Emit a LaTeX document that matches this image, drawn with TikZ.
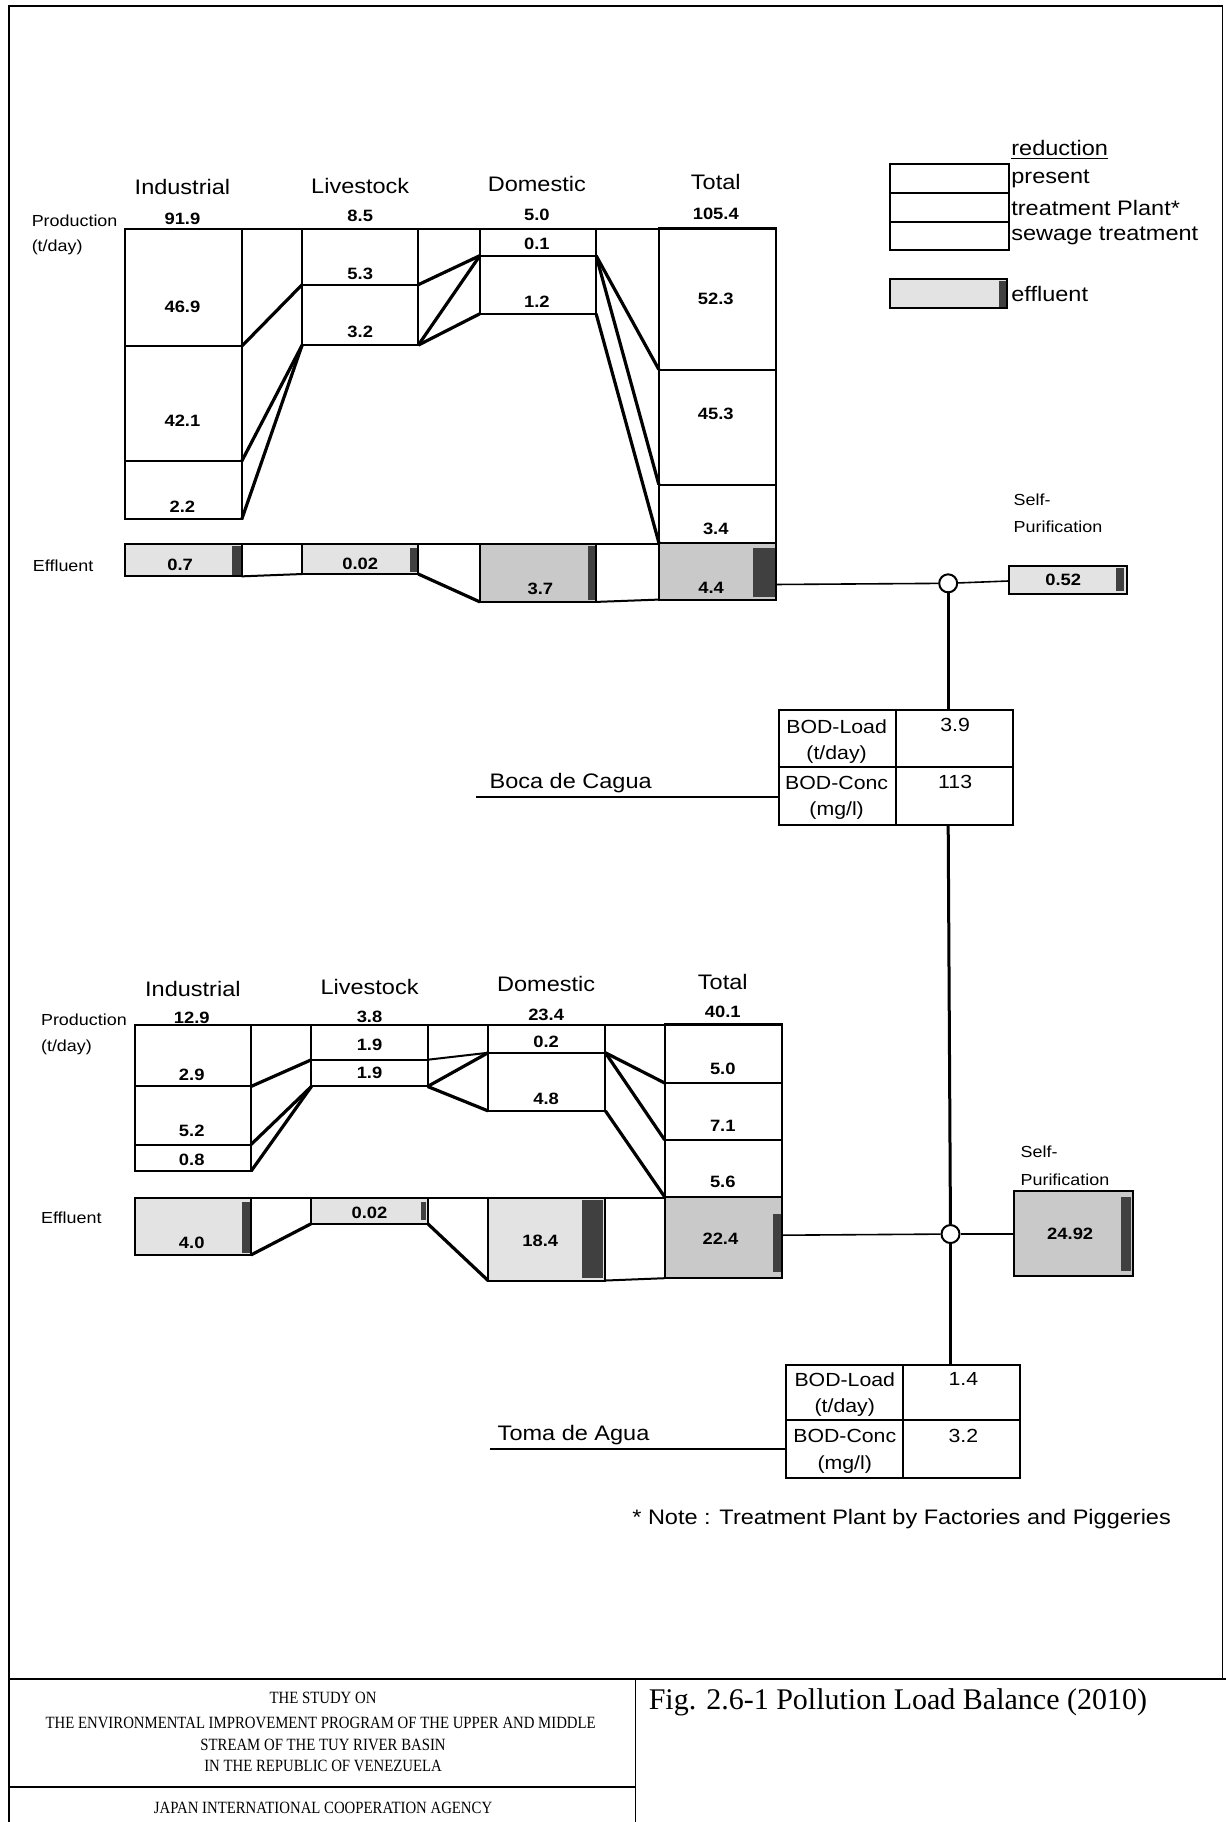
\documentclass[tikz,border=0pt]{standalone}
\usepackage{fontspec}
\setmainfont{Liberation Sans}
\newfontfamily\wf[FakeStretch=1.12]{Liberation Sans}
\newfontfamily\serff{Liberation Serif}
\newfontfamily\serfc[FakeStretch=0.86]{Liberation Serif}
\begin{document}
\begin{tikzpicture}[x=0.58105pt,y=-0.58105pt,
  bx/.style={line width=1pt},
  cn/.style={line width=1.6pt},
  rv/.style={line width=0.8pt},
  rvv/.style={line width=1.5pt},
  hd/.style={font=\wf\fontsize{10.5}{12}\selectfont, inner sep=0pt},
  nm/.style={font=\wf\bfseries\fontsize{8.2}{10}\selectfont, inner sep=0pt},
  sm/.style={font=\wf\fontsize{8}{10}\selectfont, inner sep=0pt, anchor=west},
  lg/.style={font=\wf\fontsize{10.5}{12}\selectfont, inner sep=0pt, anchor=west},
  tb/.style={font=\wf\fontsize{9.5}{11}\selectfont, inner sep=0pt},
  effl/.style={fill=gray!22},
  effd/.style={fill=gray!42},
  strip/.style={fill=black!75},
  ft/.style={font=\serfc\fontsize{8.6}{10}\selectfont, inner sep=0pt},
]
\useasboundingbox (0,0) rectangle (1055,1568);

% ---------- frame and footer ----------
\draw[line width=0.8pt] (8,1568) -- (8,5) -- (1052,5) -- (1052,1445);
\draw[line width=0.8pt] (8,1445) -- (1055,1445);
\draw[line width=0.8pt] (547,1445) -- (547,1568);
\draw[line width=0.8pt] (8,1538) -- (547,1538);
\node[ft] (f1) at (278,1461) {THE STUDY ON};
\node[ft] (f2) at (276,1483) {THE ENVIRONMENTAL IMPROVEMENT PROGRAM OF THE UPPER AND MIDDLE};
\node[ft] (f3) at (278,1502) {STREAM OF THE TUY RIVER BASIN};
\node[ft] (f4) at (278,1520) {IN THE REPUBLIC OF VENEZUELA};
\node[ft] (f5) at (278,1556) {JAPAN INTERNATIONAL COOPERATION AGENCY};
\node[font=\serff\fontsize{15}{17}\selectfont, inner sep=0pt, anchor=west] (fig) at (558,1465) {Fig. 2.6-1 Pollution Load Balance (2010)};

% ---------- legend ----------
\node[lg] (lgr) at (870,129) {\underline{reduction}};
\draw[bx] (766,141) rectangle (868,215);
\draw[bx] (766,166) -- (868,166);
\draw[bx] (766,191) -- (868,191);
\node[lg] (lg1) at (870,154) {present};
\node[lg] (lg2) at (870,179) {treatment Plant*};
\node[lg] (lg3) at (870,203) {sewage treatment};
\fill[effl] (766,240) rectangle (867,265);
\fill[strip] (860,242) rectangle (866,264);
\draw[bx] (766,240) rectangle (867,265);
\node[lg] (lg4) at (870,253) {effluent};

% =============== TOP CHART (Boca de Cagua) ===============
\node[hd] (hTI) at (157,161) {Industrial};
\node[hd] (hTL) at (310,160) {Livestock};
\node[hd] (hTD) at (462,158) {Domestic};
\node[hd] (hTT) at (616,157) {Total};
\node[sm] (pT1) at (27,190) {Production};
\node[sm] (pT2) at (27,213) {(t/day)};
\node[nm] (nTI) at (157,188) {91.9};
\node[nm] (nTL) at (310,186) {8.5};
\node[nm] (nTD) at (462,185) {5.0};
\node[nm] (nTT) at (616,184) {105.4};

% effluent fills
\fill[effl] (108,468) rectangle (208,496);
\fill[strip] (200,470) rectangle (207,495);
\fill[effl] (260,468) rectangle (360,494);
\fill[strip] (353,472) rectangle (359,492);
\fill[effd] (413,468) rectangle (513,518);
\fill[strip] (506,470) rectangle (512,516);
\fill[effd] (567,467) rectangle (668,516);
\fill[strip] (648,472) rectangle (667,514);

% production boxes
\draw[bx] (108,197) -- (668,197);
\draw[bx] (108,197) rectangle (208,447);
\draw[bx] (108,298) -- (208,298);
\draw[bx] (108,397) -- (208,397);
\draw[bx] (260,197) rectangle (360,297);
\draw[bx] (260,245) -- (360,245);
\draw[bx] (413,197) rectangle (513,270);
\draw[bx] (413,220) -- (513,220);
\draw[bx] (567,196) rectangle (668,516);
\draw[bx] (567,318) -- (668,318);
\draw[bx] (567,417) -- (668,417);
\draw[bx] (567,467) -- (668,467);

% effluent boxes
\draw[bx] (108,468) -- (567,468);
\draw[bx] (108,468) rectangle (208,496);
\draw[bx] (208,496) -- (260,494);
\draw[bx] (260,468) rectangle (360,494);
\draw[bx] (413,468) rectangle (513,518);
\draw[bx] (513,518) -- (567,516);

% coordinates for connectors
\coordinate (TIr1) at (208,298);
\coordinate (TIr2) at (208,397);
\coordinate (TIr3) at (208,447);
\coordinate (TLl0) at (260,245);
\coordinate (TLl1) at (260,297);
\coordinate (TLr0) at (360,245);
\coordinate (TLr1) at (360,297);
\coordinate (TDl0) at (413,220);
\coordinate (TDl1) at (413,270);
\coordinate (TDr0) at (513,220);
\coordinate (TDr1) at (513,270);
\coordinate (TTl1) at (567,318);
\coordinate (TTl2) at (567,417);
\coordinate (TTl3) at (567,467);
\coordinate (TLe) at (360,494);
\coordinate (TDe) at (413,518);

\draw[cn] (TIr1) -- (TLl0);
\draw[cn] (TIr2) -- (TLl1);
\draw[cn] (TIr3) -- (TLl1);
\draw[cn] (TLr0) -- (TDl0);
\draw[cn] (TLr1) -- (TDl0);
\draw[cn] (TLr1) -- (TDl1);
\draw[cn] (TDr0) -- (TTl1);
\draw[cn] (TDr0) -- (TTl2);
\draw[cn] (TDr1) -- (TTl3);
\draw[cn] (TLe) -- (TDe);

% numbers
\node[nm] (vT1) at (157,264) {46.9};
\node[nm] (vT2) at (157,362) {42.1};
\node[nm] (vT3) at (157,436) {2.2};
\node[nm] (vT4) at (310,236) {5.3};
\node[nm] (vT5) at (310,286) {3.2};
\node[nm] (vT6) at (462,210) {0.1};
\node[nm] (vT7) at (462,260) {1.2};
\node[nm] (vT8) at (616,257) {52.3};
\node[nm] (vT9) at (616,356) {45.3};
\node[nm] (vT10) at (616,455) {3.4};
\node[sm] (eT0) at (28,487) {Effluent};
\node[nm] (eT1) at (155,486) {0.7};
\node[nm] (eT2) at (310,485) {0.02};
\node[nm] (eT3) at (465,507) {3.7};
\node[nm] (eT4) at (612,506) {4.4};

% river
\coordinate (TE) at (668,503);
\node[circle, draw, line width=1pt, fill=white, minimum size=9pt, inner sep=0pt] (c1) at (816,502) {};
\fill[effl] (868,487) rectangle (970,511);
\fill[strip] (960,489) rectangle (967,509);
\draw[bx] (868,487) rectangle (970,511);
\coordinate (sp1) at (868,500);
\node[nm] (sv1) at (915,499) {0.52};
\node[sm] (st1) at (872,430) {Self-};
\node[sm] (st2) at (872,453) {Purification};
\draw[rv] (TE) -- (c1);
\draw[rv] (c1) -- (sp1);

% table 1
\draw[bx] (670,611) rectangle (872,710);
\draw[bx] (771,611) -- (771,710);
\draw[bx] (670,660) -- (872,660);
\node[tb] (t11) at (720,625) {BOD-Load};
\node[tb] (t12) at (720,649) {(t/day)};
\node[tb] (t13) at (720,674) {BOD-Conc};
\node[tb] (t14) at (720,698) {(mg/l)};
\node[tb] (t15) at (822,624) {3.9};
\node[tb] (t16) at (822,673) {113};
\coordinate (tb1n) at (816,611);
\coordinate (tb1s) at (816,710);
\coordinate (tb1w) at (670,686);
\coordinate (bcl) at (410,686);
\node[font=\wf\fontsize{10.5}{12}\selectfont, inner sep=0pt, anchor=south west] (bc) at (421,683) {Boca de Cagua};
\draw[rv] (bcl) -- (tb1w);
\draw[rvv] (c1) -- (tb1n);

% =============== LOWER CHART (Toma de Agua) ===============
\node[hd] (hLI) at (166,851) {Industrial};
\node[hd] (hLL) at (318,849) {Livestock};
\node[hd] (hLD) at (470,847) {Domestic};
\node[hd] (hLT) at (622,845) {Total};
\node[sm] (pL1) at (35,878) {Production};
\node[sm] (pL2) at (35,901) {(t/day)};
\node[nm] (nLI) at (165,876) {12.9};
\node[nm] (nLL) at (318,875) {3.8};
\node[nm] (nLD) at (470,873) {23.4};
\node[nm] (nLT) at (622,871) {40.1};

% effluent fills
\fill[effl] (116,1031) rectangle (216,1080);
\fill[strip] (208,1034) rectangle (215,1078);
\fill[effl] (268,1031) rectangle (368,1053);
\fill[strip] (362,1034) rectangle (367,1050);
\fill[effl] (420,1031) rectangle (521,1102);
\fill[strip] (501,1033) rectangle (519,1100);
\fill[effd] (572,1030) rectangle (673,1100);
\fill[strip] (665,1045) rectangle (672,1095);

% production boxes
\draw[bx] (116,882) -- (673,882);
\draw[bx] (116,882) rectangle (216,1008);
\draw[bx] (116,935) -- (216,935);
\draw[bx] (116,985) -- (216,985);
\draw[bx] (268,882) rectangle (368,935);
\draw[bx] (268,912) -- (368,912);
\draw[bx] (420,882) rectangle (521,956);
\draw[bx] (420,906) -- (521,906);
\draw[bx] (572,881) rectangle (673,1100);
\draw[bx] (572,932) -- (673,932);
\draw[bx] (572,981) -- (673,981);
\draw[bx] (572,1030) -- (673,1030);

% effluent boxes
\draw[bx] (116,1031) -- (572,1031);
\draw[bx] (116,1031) rectangle (216,1080);
\draw[bx] (268,1031) rectangle (368,1053);
\draw[bx] (420,1031) rectangle (521,1102);
\draw[bx] (521,1102) -- (572,1100);

\coordinate (LIr1) at (216,935);
\coordinate (LIr2) at (216,985);
\coordinate (LIr3) at (216,1008);
\coordinate (LLl0) at (268,912);
\coordinate (LLl1) at (268,935);
\coordinate (LLr0) at (368,912);
\coordinate (LLr1) at (368,935);
\coordinate (LDl0) at (420,906);
\coordinate (LDl1) at (420,956);
\coordinate (LDr0) at (521,906);
\coordinate (LDr1) at (521,956);
\coordinate (LTl1) at (572,932);
\coordinate (LTl2) at (572,981);
\coordinate (LTl3) at (572,1030);
\coordinate (LIe) at (216,1080);
\coordinate (LLel) at (268,1053);
\coordinate (LLer) at (368,1053);
\coordinate (LDe) at (420,1102);

\draw[cn] (LIr1) -- (LLl0);
\draw[cn] (LIr2) -- (LLl1);
\draw[cn] (LIr3) -- (LLl1);
\draw[bx] (LLr0) -- (LDl0);
\draw[cn] (LLr1) -- (LDl0);
\draw[cn] (LLr1) -- (LDl1);
\draw[cn] (LDr0) -- (LTl1);
\draw[cn] (LDr0) -- (LTl2);
\draw[cn] (LDr1) -- (LTl3);
\draw[cn] (LIe) -- (LLel);
\draw[cn] (LLer) -- (LDe);

\node[nm] (vL1) at (165,925) {2.9};
\node[nm] (vL2) at (165,973) {5.2};
\node[nm] (vL3) at (165,998) {0.8};
\node[nm] (vL4) at (318,899) {1.9};
\node[nm] (vL5) at (318,923) {1.9};
\node[nm] (vL6) at (470,897) {0.2};
\node[nm] (vL7) at (470,946) {4.8};
\node[nm] (vL8) at (622,920) {5.0};
\node[nm] (vL9) at (622,969) {7.1};
\node[nm] (vL10) at (622,1017) {5.6};
\node[sm] (eL0) at (35,1048) {Effluent};
\node[nm] (eL1) at (165,1070) {4.0};
\node[nm] (eL2) at (318,1044) {0.02};
\node[nm] (eL3) at (465,1068) {18.4};
\node[nm] (eL4) at (620,1066) {22.4};

% river
\coordinate (LE) at (673,1063);
\node[circle, draw, line width=1pt, fill=white, minimum size=9pt, inner sep=0pt] (c2) at (818,1062) {};
\fill[effd] (873,1025) rectangle (975,1098);
\fill[strip] (965,1030) rectangle (973,1094);
\draw[bx] (873,1025) rectangle (975,1098);
\coordinate (sp2) at (873,1062);
\node[nm] (sv2) at (921,1062) {24.92};
\node[sm] (st3) at (878,991) {Self-};
\node[sm] (st4) at (878,1015) {Purification};
\draw[rv] (LE) -- (c2);
\draw[rv] (c2) -- (sp2);
\draw[rvv] (tb1s) -- (c2);

% table 2
\draw[bx] (676,1175) rectangle (878,1272);
\draw[bx] (777,1175) -- (777,1272);
\draw[bx] (676,1222) -- (878,1222);
\node[tb] (t21) at (727,1187) {BOD-Load};
\node[tb] (t22) at (727,1211) {(t/day)};
\node[tb] (t23) at (727,1236) {BOD-Conc};
\node[tb] (t24) at (727,1260) {(mg/l)};
\node[tb] (t25) at (829,1187) {1.4};
\node[tb] (t26) at (829,1236) {3.2};
\coordinate (tb2n) at (818,1175);
\coordinate (tb2w) at (676,1247);
\coordinate (tal) at (422,1247);
\node[font=\wf\fontsize{10.5}{12}\selectfont, inner sep=0pt, anchor=south west] (ta) at (428,1244) {Toma de Agua};
\draw[rv] (tal) -- (tb2w);
\draw[rvv] (c2) -- (tb2n);

\node[font=\wf\fontsize{10.5}{12}\selectfont, inner sep=0pt, anchor=east] (note) at (1008,1307) {* Note : Treatment Plant by Factories and Piggeries};
\end{tikzpicture}
\end{document}
